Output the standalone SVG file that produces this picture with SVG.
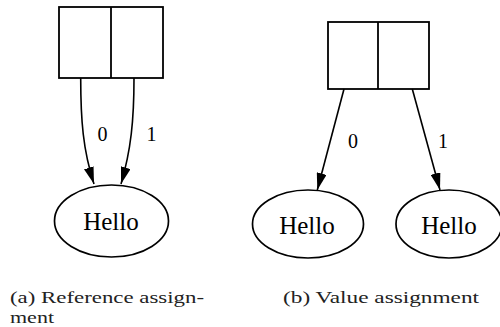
<svg xmlns="http://www.w3.org/2000/svg" width="500" height="327" viewBox="0 0 500 327">
  <style>
    .box { fill: #fff; stroke: #000; stroke-width: 1.8; }
    .edge { fill: none; stroke: #000; stroke-width: 1.6; }
    .node { fill: #fff; stroke: #000; stroke-width: 1.7; }
    .lbl { font-family: "Liberation Serif", "Times New Roman", serif; font-size: 25px; fill: #000; text-anchor: middle; }
    .elbl { font-family: "Liberation Serif", "Times New Roman", serif; font-size: 20px; fill: #000; text-anchor: middle; }
    .cap { font-family: "Liberation Serif", "Times New Roman", serif; font-size: 16.5px; fill: #222; }
  </style>
  <defs>
    <marker id="arr" viewBox="0 0 17 10" refX="17" refY="5" markerWidth="17" markerHeight="10" markerUnits="userSpaceOnUse" orient="auto">
      <path d="M0,0 L17,5 L0,10 Z" fill="#000"/>
    </marker>
  </defs>

  <!-- (a) reference assignment: both fields point at one node -->
  <g id="a-record">
    <rect class="box" x="59" y="7" width="104" height="71"/>
    <line class="box" x1="111" y1="7" x2="111" y2="78"/>
  </g>
  <g id="a-hello">
    <ellipse class="node" cx="111.5" cy="221" rx="57" ry="36"/>
    <text class="lbl" x="111" y="230">Hello</text>
  </g>

  <!-- (b) value assignment: each field points at its own node -->
  <g id="b-record">
    <rect class="box" x="328" y="22" width="101" height="67"/>
    <line class="box" x1="378" y1="22" x2="378" y2="89"/>
  </g>
  <g id="b-hello0">
    <ellipse class="node" cx="308" cy="224" rx="55.5" ry="34"/>
    <text class="lbl" x="307" y="234">Hello</text>
  </g>
  <g id="b-hello1">
    <ellipse class="node" cx="449" cy="224" rx="53" ry="34"/>
    <text class="lbl" x="449" y="234">Hello</text>
  </g>

  <g id="connectors">
    <path class="edge" d="M80.7,78 C80.7,120 83,150 94,184" marker-end="url(#arr)"/>
    <path class="edge" d="M134,78 C134,120 131,150 121,184" marker-end="url(#arr)"/>
    <text class="elbl" x="102.5" y="141">0</text>
    <text class="elbl" x="151.5" y="141">1</text>

    <path class="edge" d="M344,89 L317.3,190" marker-end="url(#arr)"/>
    <path class="edge" d="M412.3,89 L440,190" marker-end="url(#arr)"/>
    <text class="elbl" x="353" y="148">0</text>
    <text class="elbl" x="443" y="148">1</text>
  </g>

  <text class="cap" x="10" y="302.5" textLength="194" lengthAdjust="spacingAndGlyphs">(a)  Reference assign-</text>
  <text class="cap" x="10" y="322.5" textLength="44" lengthAdjust="spacingAndGlyphs">ment</text>
  <text class="cap" x="283" y="302.5" textLength="196" lengthAdjust="spacingAndGlyphs">(b)  Value assignment</text>
</svg>
